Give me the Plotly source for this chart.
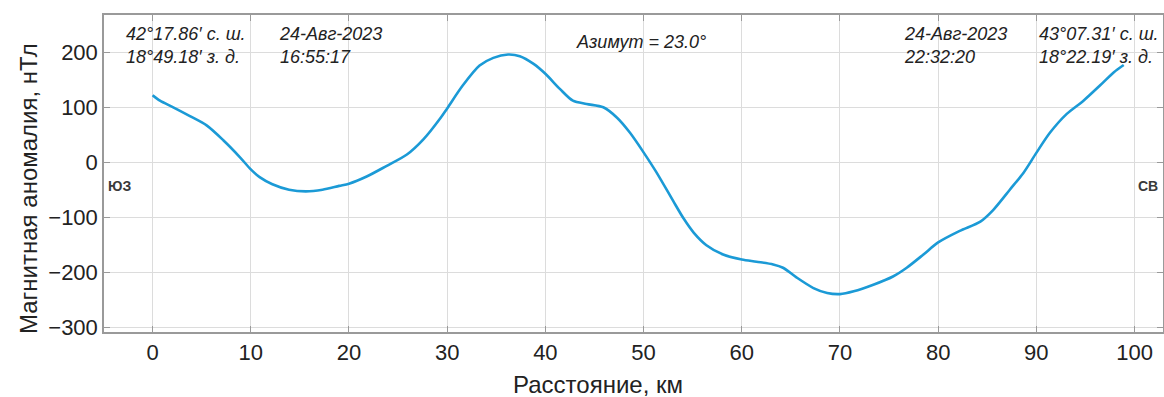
import plotly.graph_objects as go

# Distance along profile (km) and magnetic anomaly (nT)
distance_km = [0, 0.75, 2.1, 3.8, 5.5, 7.2, 8.9, 10, 10.9, 12.2, 13.9, 15.6, 17.3, 19.0, 20,
               21.8, 23.8, 25.9, 27.6, 29.3, 30, 31.6, 33.3, 34.7, 36.2, 37.4, 38.8, 40,
               41.5, 42.8, 44.2, 45.9, 47.3, 48.6, 50, 51.3, 53.0, 54.1, 55.1, 56.4, 58.1,
               60, 61.5, 63.2, 64.2, 65.6, 67.3, 68.7, 70, 71.4, 73.4, 75.4, 76.8, 78.5,
               80, 82.2, 84.3, 85.6, 87.3, 88.7, 90, 91.4, 93.1, 94.8, 96.5, 97.9, 98.9]
anomaly_nt = [122, 112, 100, 84, 67, 40, 9, -13, -27, -40, -50, -53, -50, -43, -39,
              -26, -7, 14, 42, 80, 98, 140, 176, 190, 196, 193, 179, 161,
              133, 112, 106, 100, 81, 54, 18, -18, -70, -103, -128, -151, -168,
              -177, -181, -186, -192, -210, -229, -238, -240, -235, -223, -208, -192, -168,
              -146, -125, -108, -87, -50, -19, 17, 54, 88, 112, 140, 164, 177]

x_ticks = [0, 10, 20, 30, 40, 50, 60, 70, 80, 90, 100]
y_ticks = [-300, -200, -100, 0, 100, 200]

x_title = "Расстояние, км"
y_title = "Магнитная аномалия, нТл"

start_coord = "42°17.86′ с. ш.<br>18°49.18′ з. д."
start_time = "24-Авг-2023<br>16:55:17"
azimuth = "Азимут = 23.0°"
end_time = "24-Авг-2023<br>22:32:20"
end_coord = "43°07.31′ с. ш.<br>18°22.19′ з. д."
left_dir = "ЮЗ"
right_dir = "СВ"

FONT = "Liberation Sans, Arial, sans-serif"
L, R, T, B = 104, 1163, 15, 332
PW, PH = R - L, B - T


def px(xp):
    return (xp - L) / PW


def py(yp):
    return 1 - (yp - T) / PH


fig = go.Figure()
fig.add_trace(go.Scatter(
    x=distance_km, y=anomaly_nt, mode="lines",
    line=dict(color="#1b9ad6", width=2.6, shape="spline", smoothing=0.8),
    showlegend=False, hoverinfo="skip"))

ann_font = dict(family=FONT, size=18, color="#222222")
for xpx, txt in [(124, start_coord), (277, start_time), (902, end_time), (1037, end_coord)]:
    fig.add_annotation(x=px(xpx), y=py(22), xref="paper", yref="paper",
                       xanchor="left", yanchor="top", text="<i>" + txt + "</i>",
                       showarrow=False, align="left", font=ann_font)
fig.add_annotation(x=px(574), y=py(30), xref="paper", yref="paper",
                   xanchor="left", yanchor="top", text="<i>" + azimuth + "</i>",
                   showarrow=False, align="left", font=ann_font)

dir_font = dict(family=FONT, size=14, color="#3a3a3a")
fig.add_annotation(x=px(106), y=-43, xref="paper", yref="y", xanchor="left",
                   yanchor="middle", text="<b>" + left_dir + "</b>", showarrow=False, font=dir_font)
fig.add_annotation(x=px(1160), y=-43, xref="paper", yref="y", xanchor="right",
                   yanchor="middle", text="<b>" + right_dir + "</b>", showarrow=False, font=dir_font)

title_font = dict(family=FONT, size=24, color="#222222")
fig.add_annotation(x=px(598), y=py(384), xref="paper", yref="paper", xanchor="center",
                   yanchor="middle", text=x_title, showarrow=False, font=title_font)
fig.add_annotation(x=px(28), y=py(189), xref="paper", yref="paper", xanchor="center",
                   yanchor="middle", text=y_title, textangle=-90, showarrow=False,
                   font=title_font)

axis_common = dict(
    showgrid=True, gridcolor="#dcdcdc", gridwidth=1,
    showline=True, linecolor="#9a9a9a", linewidth=1.5, mirror="ticks",
    ticks="inside", ticklen=6, tickcolor="#9a9a9a", tickwidth=1,
    zeroline=False, automargin=False,
    tickfont=dict(family=FONT, size=22, color="#222222"),
)

fig.update_xaxes(range=[-4.95, 102.9], tickvals=x_ticks, ticktext=[str(v) for v in x_ticks],
                 **axis_common)
fig.update_yaxes(range=[-309, 268], tickvals=y_ticks, **axis_common)

fig.update_layout(
    width=1164, height=397,
    margin=dict(l=L, r=1164 - R, t=T, b=397 - B, autoexpand=False),
    paper_bgcolor="white", plot_bgcolor="white",
)

fig.write_html("out.html", config={"displayModeBar": False},
               post_script="document.body.style.margin='0';document.body.style.overflow='hidden';")
